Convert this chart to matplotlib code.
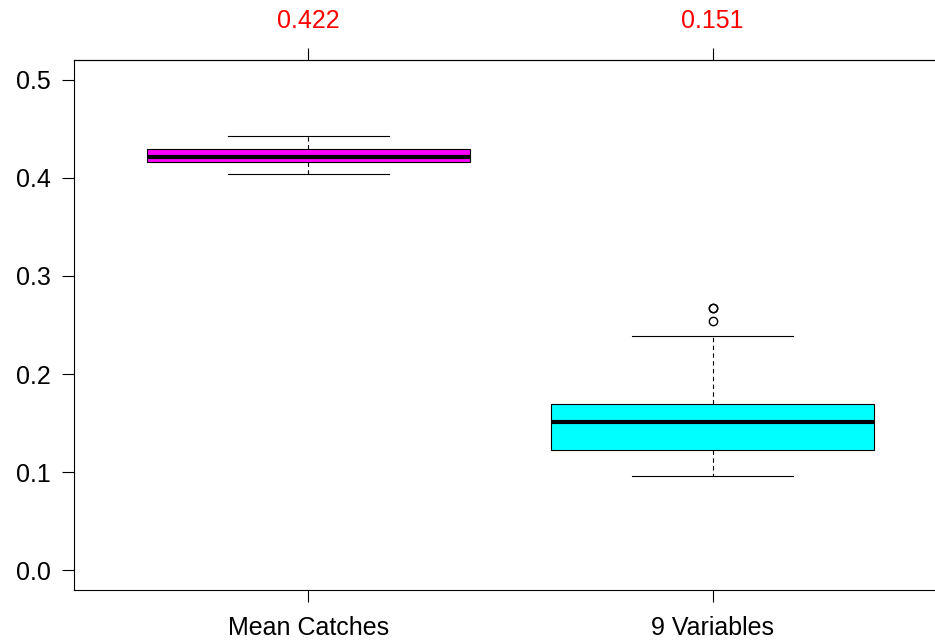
import matplotlib
matplotlib.use("Agg")
import matplotlib.pyplot as plt

plt.rcParams['font.family'] = ['Liberation Sans', 'DejaVu Sans']

# box stats
labels = ["Mean Catches", "9 Variables"]
medians = [0.4216, 0.1507]
q1 = [0.4165, 0.1222]
q3 = [0.4297, 0.1690]
whislo = [0.4043, 0.0957]
whishi = [0.4430, 0.2383]
fliers = [[], [0.2678, 0.2672, 0.2536]]
top_labels = ["0.422", "0.151"]
box_colors = ["#FF00FF", "#00FFFF"]

stats = []
for i in range(len(labels)):
    stats.append(dict(label=labels[i], med=medians[i], q1=q1[i], q3=q3[i],
                      whislo=whislo[i], whishi=whishi[i], fliers=fliers[i]))

fig = plt.figure(figsize=(9.35, 6.41), dpi=100)
ax = fig.add_axes([74/935, 51/641, 873/935, 530/641])

bp = ax.bxp(stats, positions=[1, 2], widths=0.8, patch_artist=True,
            boxprops=dict(linewidth=0.8, edgecolor='black'),
            medianprops=dict(color='black', linewidth=3),
            whiskerprops=dict(color='black', linewidth=0.8, linestyle=(0, (4, 3))),
            capprops=dict(color='black', linewidth=0.8),
            capwidths=0.4,
            flierprops=dict(marker='o', markerfacecolor='none', markeredgecolor='black',
                            markersize=6, markeredgewidth=1))
for patch, c in zip(bp['boxes'], box_colors):
    patch.set_facecolor(c)

ax.set_xlim(0.42, 2.58)
ax.set_ylim(-0.02, 0.52)
ax.set_yticks([0.0, 0.1, 0.2, 0.3, 0.4, 0.5])
ax.set_yticklabels(["0.0", "0.1", "0.2", "0.3", "0.4", "0.5"])
ax.set_xticks([1, 2])
ax.set_xticklabels(labels)

ax.tick_params(axis='y', length=8.6, width=0.8, labelsize=18, pad=8, direction='out')
ax.tick_params(axis='x', length=8.6, width=0.8, labelsize=18, pad=10, direction='out')

top = ax.secondary_xaxis('top')
top.set_xticks([1, 2])
top.set_xticklabels(top_labels, color='red')
top.tick_params(length=8.6, width=0.8, labelsize=18, pad=11, direction='out')
top.spines['top'].set_linewidth(0.8)

for s in ['left', 'bottom', 'top', 'right']:
    ax.spines[s].set_linewidth(0.8)

fig.savefig("out.png", dpi=100)
